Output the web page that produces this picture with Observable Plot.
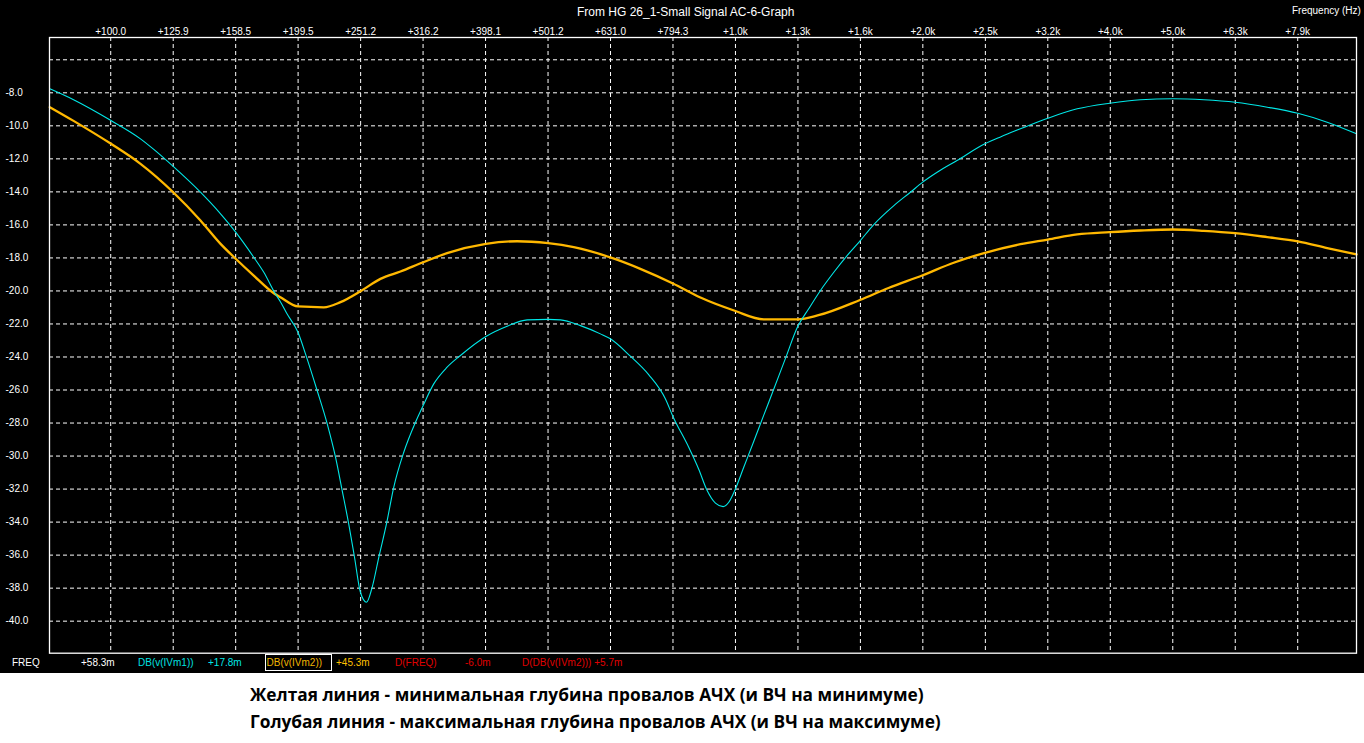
<!DOCTYPE html>
<html>
<head>
<meta charset="utf-8">
<script src="https://cdn.jsdelivr.net/npm/d3@7"></script>
<script src="https://cdn.jsdelivr.net/npm/@observablehq/plot@0.6"></script>
<style>
  html, body { margin: 0; padding: 0; background: #ffffff; }
  #wrap { position: relative; width: 1364px; height: 673px; background: #000000; overflow: hidden; }
  #chart { position: absolute; left: 0; top: 0; }
  .t { position: absolute; font-family: "Liberation Sans", Arial, sans-serif; font-size: 10px; line-height: 12px; white-space: pre; color: #ffffff; }
  #title { font-size: 12px; line-height: 14px; }
  #caption { font-family: "Open Sans", sans-serif; font-weight: 700; font-size: 17.3px; line-height: 27px; color: #000; padding: 8px 0 0 250px; }
</style>
</head>
<body>
<div id="wrap">
  <div id="chart"></div>
  <div class="t" id="title" style="left:577px; top:5px;">From HG 26_1-Small Signal AC-6-Graph</div>
  <div class="t" style="left:1292px; top:5px;">Frequency (Hz)</div>
  <div id="legend"></div>
</div>
<div id="caption"></div>
<script>
// ---- data ----
const freqTicks = [100, 125.9, 158.5, 199.5, 251.2, 316.2, 398.1, 501.2, 631.0, 794.3, 1000, 1259, 1585, 1995, 2512, 3162, 3981, 5012, 6310, 7943];
const freqTickLabels = ["+100.0", "+125.9", "+158.5", "+199.5", "+251.2", "+316.2", "+398.1", "+501.2", "+631.0", "+794.3", "+1.0k", "+1.3k", "+1.6k", "+2.0k", "+2.5k", "+3.2k", "+4.0k", "+5.0k", "+6.3k", "+7.9k"];
const dbGrid = [-6, -8, -10, -12, -14, -16, -18, -20, -22, -24, -26, -28, -30, -32, -34, -36, -38, -40];
const dbTicks = [-8, -10, -12, -14, -16, -18, -20, -22, -24, -26, -28, -30, -32, -34, -36, -38, -40];
const dbTickLabels = ["-8.0", "-10.0", "-12.0", "-14.0", "-16.0", "-18.0", "-20.0", "-22.0", "-24.0", "-26.0", "-28.0", "-30.0", "-32.0", "-34.0", "-36.0", "-38.0", "-40.0"];

// DB(v(IVm1)) – cyan
const freqCyan = [79.9, 87.2, 100.1, 111.6, 117.2, 125.9, 139.2, 149.9, 158.5, 169.4, 175.8, 183.5, 186.9, 191.6, 199.4, 205.0, 214.0, 222.1, 229.0, 234.7, 240.4, 245.6, 251.0, 256.7, 262.1, 268.6, 276.3, 283.8, 294.5, 307.5, 316.3, 328.9, 345.5, 362.9, 398.6, 431.1, 464.1, 501.4, 524.6, 564.8, 607.9, 630.6, 678.8, 726.2, 772.3, 794.2, 841.8, 873.4, 900.9, 928.9, 955.7, 975.7, 997.4, 1031, 1070, 1110, 1145, 1202, 1258, 1310, 1368, 1437, 1509, 1582, 1665, 1793, 1906, 1994, 2103, 2263, 2508, 2656, 2859, 3162, 3524, 3972, 4449, 5012, 5619, 6308, 7101, 7945, 8854, 9865];
const dbCyan = [-7.76, -8.42, -9.68, -10.79, -11.43, -12.46, -14.02, -15.33, -16.44, -17.96, -18.87, -20.18, -20.65, -21.4, -22.5, -23.81, -26.03, -28.05, -30.07, -32.09, -34.11, -36.13, -38.25, -38.85, -37.95, -36.13, -34.11, -31.89, -29.77, -27.95, -26.94, -25.63, -24.62, -23.91, -22.76, -22.14, -21.75, -21.72, -21.75, -22.1, -22.6, -22.9, -23.95, -25.07, -26.53, -27.6, -29.47, -30.8, -32.09, -32.85, -33.06, -32.8, -32.09, -30.68, -29.1, -27.52, -26.2, -24.1, -22.16, -21.08, -19.97, -18.87, -17.86, -16.98, -15.98, -14.83, -14.02, -13.41, -12.81, -12.1, -11.09, -10.67, -10.18, -9.54, -8.97, -8.63, -8.42, -8.36, -8.42, -8.57, -8.87, -9.24, -9.78, -10.48];

// DB(v(IVm2)) – orange
const freqOrange = [79.9, 87.2, 100.1, 111.6, 125.9, 139.2, 149.9, 158.5, 169.4, 182.4, 186.9, 199.4, 219.3, 233.2, 251.5, 270.2, 290.9, 316.3, 345.5, 398.6, 447.3, 501.4, 551.0, 630.6, 704.3, 794.2, 878.9, 997.4, 1110, 1258, 1358, 1582, 1758, 1994, 2235, 2508, 2859, 3162, 3524, 3972, 4449, 5012, 5619, 6308, 7101, 7945, 8854, 9865];
const dbOrange = [-8.87, -9.7, -11.09, -12.3, -14.02, -15.73, -17.15, -18.05, -19.07, -20.14, -20.38, -20.94, -20.99, -20.68, -20.0, -19.27, -18.82, -18.26, -17.71, -17.15, -16.99, -17.11, -17.35, -17.97, -18.66, -19.55, -20.4, -21.2, -21.72, -21.72, -21.47, -20.55, -19.82, -19.05, -18.29, -17.69, -17.17, -16.89, -16.58, -16.44, -16.34, -16.28, -16.36, -16.5, -16.74, -17.0, -17.41, -17.79];

const legendTexts = ["FREQ", "+58.3m", "DB(v(IVm1))", "+17.8m", "DB(v(IVm2))", "+45.3m", "D(FREQ)", "-6.0m", "D(DB(v(IVm2))) +5.7m"];
const legendColors = ["#ffffff", "#ffffff", "#00e0e0", "#00e8e8", "#f0b400", "#ffc000", "#e00000", "#e00000", "#e00000"];
const legendLeft = [12, 81, 138, 208, 267, 336, 395, 465, 522];

const captionLines = [
  "Желтая линия - минимальная глубина провалов АЧХ (и ВЧ на минимуме)",
  "Голубая линия - максимальная глубина провалов АЧХ (и ВЧ на максимуме)"
];

// ---- build ----
const cyan = freqCyan.map((f, i) => ({f, db: dbCyan[i]}));
const orange = freqOrange.map((f, i) => ({f, db: dbOrange[i]}));
const xLabel = new Map(freqTicks.map((f, i) => [f, freqTickLabels[i]]));
const yLabel = new Map(dbTicks.map((v, i) => [v, dbTickLabels[i]]));

const chart = Plot.plot({
  width: 1364,
  height: 656,
  marginLeft: 49,
  marginRight: 8,
  marginTop: 37,
  marginBottom: 3.3,
  style: {background: "#000000", fontFamily: "Liberation Sans, Arial, sans-serif", fontSize: "10px", color: "#ffffff", overflow: "visible"},
  x: {type: "log", domain: [79.8, 9865]},
  y: {domain: [-41.94, -4.65]},
  marks: [
    Plot.gridX(freqTicks, {stroke: "#ffffff", strokeOpacity: 1, strokeDasharray: "4,3"}),
    Plot.gridY(dbGrid, {stroke: "#ffffff", strokeOpacity: 1, strokeDasharray: "4,3"}),
    Plot.axisX(freqTicks, {anchor: "top", tickSize: 0, tickPadding: 3, tickFormat: d => xLabel.get(d), fill: "#ffffff", fontSize: 10, label: null}),
    Plot.axisY(dbTicks, {anchor: "left", tickSize: 0, tickPadding: 0, tickFormat: d => yLabel.get(d), textAnchor: "start", dx: -44, fill: "#ffffff", fontSize: 10, label: null}),
    Plot.line(orange, {x: "f", y: "db", stroke: "#ffb800", strokeWidth: 2.3, curve: "monotone-x"}),
    Plot.line(cyan, {x: "f", y: "db", stroke: "#00e8e8", strokeWidth: 1.1, curve: "monotone-x"}),
    Plot.frame({stroke: "#ffffff", strokeWidth: 1.3})
  ]
});
document.getElementById("chart").appendChild(chart);

const legend = document.getElementById("legend");
legendTexts.forEach((t, i) => {
  const s = document.createElement("div");
  s.className = "t";
  s.textContent = t;
  s.style.left = legendLeft[i] + "px";
  s.style.top = "657px";
  s.style.color = legendColors[i];
  if (i === 4) {
    s.style.border = "1.5px solid #ffffff";
    s.style.padding = "2px 9px 1px 1px";
    s.style.left = (legendLeft[i] - 2.5) + "px";
    s.style.top = "654px";
  }
  legend.appendChild(s);
});

const cap = document.getElementById("caption");
captionLines.forEach(l => {
  const d = document.createElement("div");
  d.textContent = l;
  cap.appendChild(d);
});
</script>
</body>
</html>
